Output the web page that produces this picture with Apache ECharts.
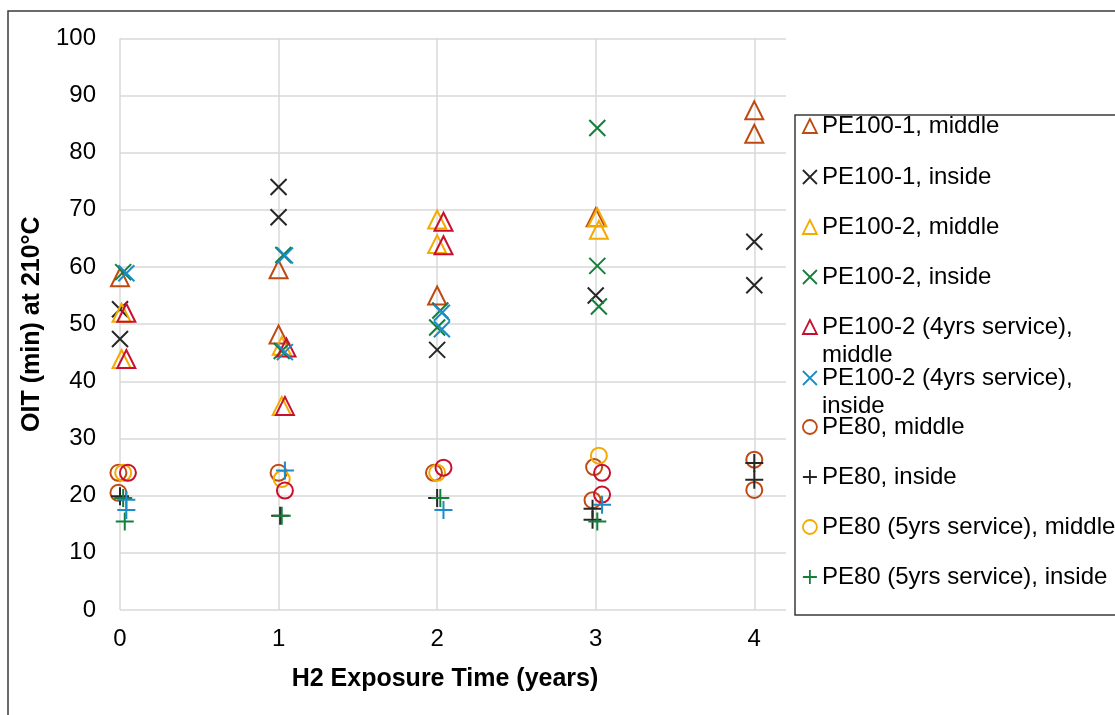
<!DOCTYPE html>
<html>
<head>
<meta charset="utf-8">
<script src="https://cdn.jsdelivr.net/npm/echarts@6/dist/echarts.min.js"></script>
<style>
  html, body { margin: 0; padding: 0; background: #fff; }
  #chart { width: 1115px; height: 715px; }
</style>
</head>
<body>
<div id="chart"></div>
<script>
// OIT measurements (minutes at 210 °C) against years of H2 exposure.
// Each point is [exposure time (years, slightly offset per sample), OIT (min)].
const pe100_1_middle = [[0, 58.2], [1, 59.6], [1, 48.2], [2, 55.0], [3, 68.7], [4, 87.4], [4, 83.3]];
const pe100_1_inside = [[0, 52.6], [0, 47.4], [1, 74.0], [1, 68.7], [2, 45.5], [3, 55.0], [4, 64.4], [4, 56.8]];
const pe100_2_middle = [[0.01, 52.0], [0.01, 43.9], [1.02, 46.2], [1.02, 35.7], [2.0, 68.3], [2.0, 64.0], [3.01, 68.7], [3.02, 66.5]];
const pe100_2_inside = [[0.02, 59.1], [1.03, 62.1], [1.02, 45.3], [2.02, 52.4], [2.0, 49.4], [3.01, 84.3], [3.01, 60.2], [3.02, 53.1]];
const pe100_2s_middle = [[0.04, 52.0], [0.04, 43.9], [1.05, 45.9], [1.04, 35.7], [2.04, 67.9], [2.04, 63.8]];
const pe100_2s_inside = [[0.04, 58.9], [1.04, 62.0], [1.04, 45.1], [2.03, 52.0], [2.03, 49.1]];
const pe80_middle = [[-0.01, 24.0], [-0.01, 20.5], [1.0, 24.0], [1.98, 24.0], [2.99, 25.0], [2.98, 19.2], [4, 26.3], [4, 21.0]];
const pe80_inside = [[0, 19.9], [1.01, 16.5], [2.0, 19.6], [2.98, 17.7], [2.98, 15.8], [4, 25.7], [4, 22.8]];
const pe80s_middle = [[0.02, 24.0], [1.02, 22.9], [2.0, 24.0], [3.02, 27.0]];
const pe80s_inside = [[0.02, 19.6], [0.03, 15.5], [1.02, 16.5], [2.02, 19.6], [3.01, 15.5]];
const pe80b_middle = [[0.05, 24.0], [1.04, 20.9], [2.04, 24.9], [3.04, 24.0], [3.04, 20.2]];
const pe80b_inside = [[0.04, 19.3], [0.04, 17.5], [1.04, 24.4], [2.04, 17.5], [3.04, 18.4]];

const xTicks = [0, 1, 2, 3, 4];

const BROWN = '#BE4A12', BLACK = '#262626', AMBER = '#F4AA00',
      GREEN = '#13803A', CRIMSON = '#C8102E', BLUE = '#1C8CC8';

const CROSS = 'path://M0,0L10,10M10,0L0,10';
const PLUS = 'path://M5,0L5,10M0,5L10,5';

const seriesDefs = [
  { name: 'PE100-1, middle', data: pe100_1_middle, symbol: 'triangle', color: BROWN, size: 18 },
  { name: 'PE100-1, inside', data: pe100_1_inside, symbol: CROSS, color: BLACK, size: 16 },
  { name: 'PE100-2, middle', data: pe100_2_middle, symbol: 'triangle', color: AMBER, size: 18 },
  { name: 'PE100-2, inside', data: pe100_2_inside, symbol: CROSS, color: GREEN, size: 16 },
  { name: 'PE100-2 (4yrs service),\nmiddle', data: pe100_2s_middle, symbol: 'triangle', color: CRIMSON, size: 18 },
  { name: 'PE100-2 (4yrs service),\ninside', data: pe100_2s_inside, symbol: CROSS, color: BLUE, size: 16 },
  { name: 'PE80, middle', data: pe80_middle, symbol: 'circle', color: BROWN, size: 16 },
  { name: 'PE80, inside', data: pe80_inside, symbol: PLUS, color: BLACK, size: 18 },
  { name: 'PE80 (5yrs service), middle', data: pe80s_middle, symbol: 'circle', color: AMBER, size: 16 },
  { name: 'PE80 (5yrs service), inside', data: pe80s_inside, symbol: PLUS, color: GREEN, size: 18 },
  { name: 'PE80 (aged), middle', data: pe80b_middle, symbol: 'circle', color: CRIMSON, size: 16 },
  { name: 'PE80 (aged), inside', data: pe80b_inside, symbol: PLUS, color: BLUE, size: 18 }
];

const series = seriesDefs.map(d => ({
  name: d.name,
  type: 'scatter',
  data: d.data,
  symbol: d.symbol,
  symbolSize: d.size,
  clip: false,
  itemStyle: { color: 'rgba(0,0,0,0)', borderColor: d.color, borderWidth: 2, opacity: 1 },
  emphasis: { disabled: true }
}));

// Legend: one small legend per entry so that wrapped names keep the row pitch.
// Wrapped names get a leading blank line so the first line sits beside the icon.
const legendRows = [126, 177, 227, 277, 327, 378, 427, 477, 527, 577];
const legends = legendRows.map((cy, i) => {
  const name = seriesDefs[i].name;
  const twoLine = name.indexOf('\n') >= 0;
  return {
    data: [{ name: name, itemStyle: { borderWidth: 1.8 } }],
    left: 802,
    top: twoLine ? cy - 42 : cy - 14,
    padding: 0,
    itemWidth: 14,
    itemHeight: 14,
    itemGap: 0,
    selectedMode: false,
    formatter: n => (twoLine ? '\n' + n : n),
    textStyle: {
      fontFamily: 'Liberation Sans, Arial, sans-serif',
      fontSize: 24,
      color: '#000',
      lineHeight: 28
    }
  };
});

const chart = echarts.init(document.getElementById('chart'), null, { renderer: 'canvas' });

chart.setOption({
  animation: false,
  backgroundColor: '#fff',
  textStyle: { fontFamily: 'Liberation Sans, Arial, sans-serif' },
  grid: { left: 120, top: 38.3, right: 329, bottom: 105, containLabel: false },
  legend: legends,
  xAxis: {
    type: 'value',
    min: 0,
    max: 4.2,
    interval: 1,
    name: 'H2 Exposure Time (years)',
    nameLocation: 'middle',
    nameGap: 57,
    nameTextStyle: { fontSize: 25, fontWeight: 'bold', color: '#000', padding: [0, 16, 0, 0] },
    axisLine: { show: false },
    axisTick: { show: false },
    axisLabel: {
      fontSize: 24, color: '#000', margin: 17,
      formatter: v => (xTicks.indexOf(v) >= 0 ? String(v) : '')
    },
    splitLine: { show: true, showMaxLine: false, lineStyle: { color: '#d9d9d9', width: 1.5 } }
  },
  yAxis: {
    type: 'value',
    min: 0,
    max: 100,
    interval: 10,
    name: 'OIT (min) at 210°C',
    nameLocation: 'middle',
    nameGap: 71,
    nameTextStyle: { fontSize: 25, fontWeight: 'bold', color: '#000' },
    axisLine: { show: false },
    axisTick: { show: false },
    axisLabel: { fontSize: 24, color: '#000', margin: 24 },
    splitLine: { show: true, lineStyle: { color: '#d9d9d9', width: 1.5 } }
  },
  graphic: [
    { type: 'rect', silent: true, z: -1,
      shape: { x: 8, y: 11, width: 1300, height: 900 },
      style: { fill: 'none', stroke: '#3a3a3a', lineWidth: 1.5 } },
    { type: 'rect', silent: true, z: -1,
      shape: { x: 795, y: 115, width: 500, height: 500 },
      style: { fill: 'none', stroke: '#3a3a3a', lineWidth: 1.5 } }
  ],
  series: series
});
</script>
</body>
</html>
